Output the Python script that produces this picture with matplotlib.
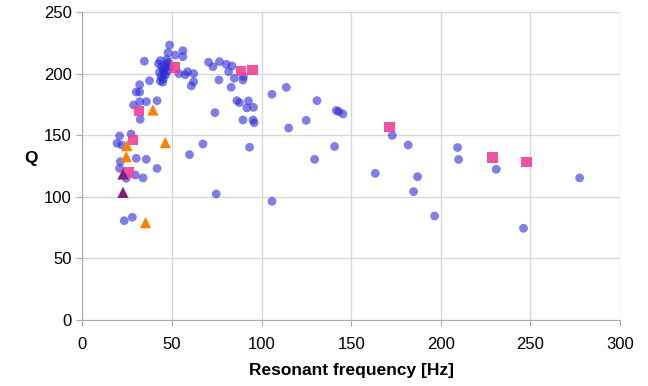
import matplotlib.pyplot as plt

# blue circles: measured resonators
freq_c = [48.7, 56.1, 47.8, 51.9, 56.1, 34.6,
          42.5, 43.5, 44.5, 45.0, 45.5, 46.0, 46.8, 47.5, 44.0, 45.2, 46.5, 48.0,
          43.0, 47.2, 49.0, 44.8,
          62.1, 58.7, 57.4, 53.9, 62.1, 60.8, 37.5, 32.0, 30.1, 32.0, 43.5,
          28.6, 32.0, 35.7, 41.7, 32.3, 20.8, 27.2, 19.4, 22.1,
          30.1, 35.7, 21.2, 20.8, 41.7, 29.6, 33.9, 24.5, 23.4, 27.9,
          67.3, 59.8, 74.0, 74.7, 105.8, 105.8,
          70.4, 72.9, 76.5, 80.3, 83.5, 81.6, 84.8, 89.6, 89.9, 76.2, 83.0,
          86.2, 87.7, 92.7, 91.8, 95.5, 89.6, 95.2, 95.9, 93.3,
          113.8, 130.9, 141.7, 143.1, 145.4, 124.9, 115.1, 140.7, 129.6,
          163.4, 172.9, 181.8, 187.0, 184.8, 196.5, 209.3, 209.9,
          230.9, 246.1, 277.4]
q_c = [223.2, 218.6, 217.0, 215.0, 213.7, 210.0,
       208.0, 210.5, 206.0, 203.0, 200.0, 204.5, 207.5, 202.0, 197.5, 195.5, 199.0, 209.0,
       201.0, 211.5, 205.5, 193.0,
       200.0, 201.5, 199.0, 200.0, 193.4, 190.0, 194.2, 191.0, 185.0, 185.0, 194.0,
       174.5, 177.2, 177.2, 178.0, 162.9, 149.4, 151.0, 143.4, 142.0,
       131.2, 130.4, 128.5, 123.0, 123.0, 117.7, 115.3, 115.0, 80.6, 83.4,
       142.9, 134.2, 168.3, 102.3, 183.2, 96.3,
       209.2, 205.6, 209.7, 207.5, 206.2, 201.5, 196.2, 194.8, 197.5, 194.8, 188.9,
       178.0, 176.4, 177.8, 172.1, 172.6, 162.3, 162.3, 160.1, 140.2,
       188.8, 178.0, 170.0, 169.2, 167.2, 162.0, 155.8, 140.8, 130.4,
       119.0, 149.8, 142.0, 116.3, 104.2, 84.4, 140.0, 130.3,
       122.3, 74.4, 115.3]

# pink squares
freq_s = [51.9, 88.5, 95.0, 31.6, 28.3, 25.8, 171.4, 228.8, 247.8]
q_s = [205.0, 202.0, 203.0, 169.6, 146.0, 119.8, 156.9, 132.0, 128.2]

# orange triangles
freq_o = [39.4, 46.3, 24.9, 24.5, 35.3]
q_o = [170.5, 144.0, 141.5, 132.6, 79.0]

# purple triangles
freq_p = [22.7, 22.7]
q_p = [118.5, 103.6]


def main():
    plt.rcParams['font.family'] = ['Liberation Sans', 'DejaVu Sans']
    fig = plt.figure(figsize=(6.48, 3.86), dpi=100)
    ax = fig.add_axes([0.127, 0.171, 0.83, 0.798])

    ax.scatter(freq_c, q_c, s=40, color='#2a2ad8', alpha=0.6,
               edgecolors='none', zorder=3)
    ax.scatter(freq_s, q_s, s=55, marker='s', color='#f0409a', alpha=0.9,
               edgecolors='none', zorder=4)
    ax.scatter(freq_o, q_o, s=65, marker='^', color='#ff7f00',
               edgecolors='none', zorder=4)
    ax.scatter(freq_p, q_p, s=65, marker='^', color='#7b1e7e',
               edgecolors='none', zorder=4)

    ax.set_xlim(0, 300)
    ax.set_ylim(0, 250)
    ax.set_xticks(range(0, 301, 50))
    ax.set_yticks(range(0, 251, 50))
    ax.grid(True, color='#d8d8d8', linewidth=1)
    ax.set_axisbelow(True)
    for side in ['top', 'right']:
        ax.spines[side].set_visible(False)
    for side in ['left', 'bottom']:
        ax.spines[side].set_color('#aaaaaa')
    ax.tick_params(colors='#aaaaaa', labelcolor='black', labelsize=12,
                   length=4)
    ax.tick_params(axis='x', pad=8)
    ax.set_xlabel('Resonant frequency [Hz]', fontsize=12.5, fontweight='bold',
                  labelpad=8)
    ax.set_ylabel('Q', fontsize=12.5, fontweight='bold', rotation=0,
                  labelpad=20)
    ax.yaxis.set_label_coords(-0.095, 0.5)

    fig.savefig('out.png', dpi=100)


if __name__ == "__main__":
    main()
